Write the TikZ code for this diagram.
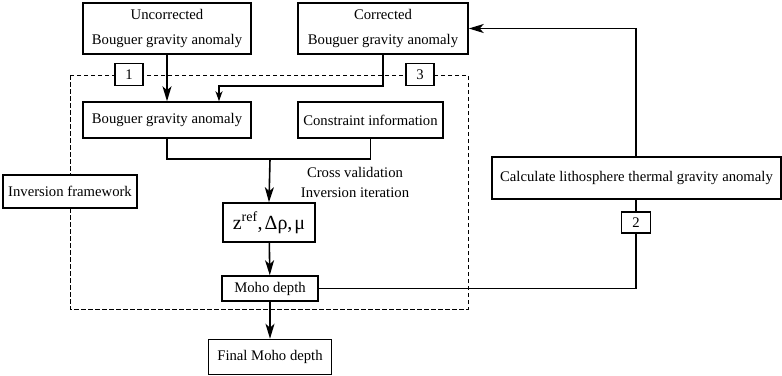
\documentclass[tikz,border=0pt]{standalone}
\usepackage{fontspec}
\setmainfont{Liberation Serif}
\usetikzlibrary{arrows.meta, positioning}
\tikzset{
  blk/.style={draw, line width=1.5pt, fill=white, inner sep=0pt, align=center},
  tag/.style={draw, line width=1.3pt, fill=white, inner sep=0pt,
    minimum width=28pt, minimum height=22pt},
  link/.style={line width=1.6pt},
  arr/.style={link, -{Stealth[length=15pt, width=9pt, inset=4pt]}},
  arrsmall/.style={link, -{Stealth[length=10pt, width=7pt, inset=3pt]}},
  frame/.style={line width=1pt, dash pattern=on 4.5pt off 2.5pt},
}

\begin{document}
\begin{tikzpicture}[x=1pt, y=-1pt, font=\fontsize{14.7}{20}\selectfont]
\useasboundingbox (0,0) rectangle (782,375);

\draw[frame] (70,75) rectangle (468,309);

\node[blk, minimum width=168pt, minimum height=51pt] (unc) at (167,28.5)
  {Uncorrected\\[5pt]Bouguer gravity anomaly};
\node[blk, minimum width=170pt, minimum height=51pt] (cor) at (383,28.5)
  {Corrected\\[5pt]Bouguer gravity anomaly};

\node[tag] (lab1) at (129,74.5) {1};
\node[tag] (lab3) at (420,74.5) {3};

\node[blk, minimum width=168pt, minimum height=36pt] (bga) at (167,120)
  {Bouguer gravity anomaly};
\node[blk, minimum width=145pt, minimum height=36pt] (con) at (370.5,120)
  {Constraint information};

\node[blk, minimum width=134pt, minimum height=33pt] (frw) at (70,191.5)
  {Inversion framework};

\node[blk, minimum width=92pt, minimum height=39pt,
  font=\fontsize{20}{22}\selectfont] (zref) at (269,222.5)
  {z\textsuperscript{ref},\kern2ptΔρ,\kern2ptμ};
\node[align=center] (cv) at (355,182) {Cross validation\\Inversion iteration};

\node[blk, minimum width=96pt, minimum height=25pt] (moho) at (270,288.5)
  {Moho depth};
\node[blk, minimum width=123pt, minimum height=35pt,
  below=37pt of moho] (fin) {Final Moho depth};

\node[blk, minimum width=289pt, minimum height=42pt] (thm) at (636.5,178)
  {Calculate lithosphere thermal gravity anomaly};
\node[tag, minimum width=29pt, minimum height=21pt] (lab2) at (636,222.5) {2};

\coordinate (cj) at (219,86);
\coordinate (mrg) at (270,159);

\draw[arr] (unc) -- (bga);
\draw[arrsmall] (cor.south) |- (cj) -- (cj |- bga.north);
\draw[link] (bga.south) |- (mrg) -| (con.south);
\draw[arr] (mrg) -- (zref.north);
\draw[arr] (zref) -- (moho);
\draw[arr] (moho) -- (fin);
\draw[link] (moho.east) -| (lab2.south);
\draw[link] (lab2.north) -- (lab2 |- thm.south);
\draw[arr] (lab2 |- thm.north) |- (cor.east);
\end{tikzpicture}
\end{document}
